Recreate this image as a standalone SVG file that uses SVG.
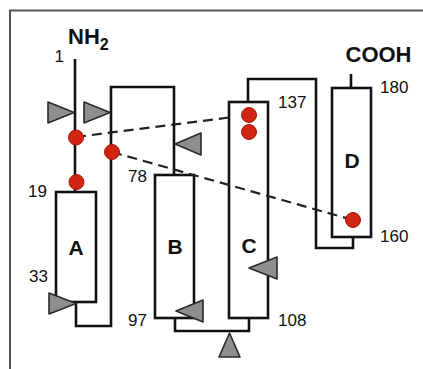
<svg xmlns="http://www.w3.org/2000/svg" width="423" height="369" viewBox="0 0 423 369">
<style>
.ln{fill:none;stroke:#111;stroke-width:2.6;stroke-linejoin:miter}
.box{fill:#fff;stroke:#111;stroke-width:2.6}
.tri{fill:#8e8e8e;stroke:#2a2a2a;stroke-width:1.6;stroke-linejoin:round}
.dot{fill:#d12412;stroke:#a8180a;stroke-width:1}
.dash{fill:none;stroke:#222;stroke-width:2.2;stroke-dasharray:10 6}
.num{font-family:"Liberation Sans",Arial,sans-serif;font-size:17px;fill:#111}
.lbl{font-family:"Liberation Sans",Arial,sans-serif;font-size:21px;font-weight:bold;fill:#111}
.term{font-family:"Liberation Sans",Arial,sans-serif;font-size:22px;font-weight:bold;fill:#111}
</style>
<rect width="423" height="369" fill="#fff"/>
<g id="frame"><path d="M10,369 V10.5 H423" fill="none" stroke="#555" stroke-width="2"/></g>
<g id="connectors">
<path class="ln" d="M75,59 V192"/>
<path class="ln" d="M76,302 V326 H111 V87 H174 V175"/>
<path class="ln" d="M175,318 V331 H249 V318"/>
<path class="ln" d="M248,102 V79 H316 V248 H353 V237"/>
<path class="ln" d="M351,74 V88"/>
</g>
<g id="helixA"><rect class="box" x="56" y="192" width="40" height="110"/><text class="lbl" x="76" y="255" text-anchor="middle">A</text></g>
<g id="helixB"><rect class="box" x="155" y="175" width="39" height="143"/><text class="lbl" x="175" y="254" text-anchor="middle">B</text></g>
<g id="helixC"><rect class="box" x="229" y="102" width="39" height="216"/><text class="lbl" x="249" y="253" text-anchor="middle">C</text></g>
<g id="helixD"><rect class="box" x="332" y="88" width="39" height="149"/><text class="lbl" x="352" y="168" text-anchor="middle">D</text></g>
<g id="dashes">
<path class="dash" d="M76,137 L229,117.5"/>
<path class="dash" d="M112,152 L353,220"/>
</g>
<g id="triangles">
<polygon class="tri" points="48,102 48,123 74,112.5"/>
<polygon class="tri" points="84,102 84,123 110,112.5"/>
<polygon class="tri" points="201,133 201,155 175,144"/>
<polygon class="tri" points="49,293 49,314 76,303.5"/>
<polygon class="tri" points="203,300 203,322 176,311"/>
<polygon class="tri" points="277,257 277,279 249,268"/>
<polygon class="tri" points="229.5,333 219,357 240,357"/>
</g>
<g id="dots">
<circle class="dot" cx="76" cy="137.5" r="7.5"/>
<circle class="dot" cx="112" cy="152" r="7.5"/>
<circle class="dot" cx="76.5" cy="182" r="7.5"/>
<circle class="dot" cx="249" cy="115" r="7.5"/>
<circle class="dot" cx="249" cy="132" r="7.5"/>
<circle class="dot" cx="353" cy="220" r="7.5"/>
</g>
<g id="labels">
<text class="term" x="68" y="44">NH<tspan font-size="16" dy="6">2</tspan></text>
<text class="term" x="378.5" y="62" text-anchor="middle">COOH</text>
<text class="num" x="64" y="62" text-anchor="end" font-size="14">1</text>
<text class="num" x="47" y="197" text-anchor="end">19</text>
<text class="num" x="48" y="282" text-anchor="end">33</text>
<text class="num" x="147" y="182" text-anchor="end">78</text>
<text class="num" x="147" y="326" text-anchor="end">97</text>
<text class="num" x="278" y="326">108</text>
<text class="num" x="278" y="108">137</text>
<text class="num" x="380" y="93">180</text>
<text class="num" x="380" y="242">160</text>
</g>
</svg>
